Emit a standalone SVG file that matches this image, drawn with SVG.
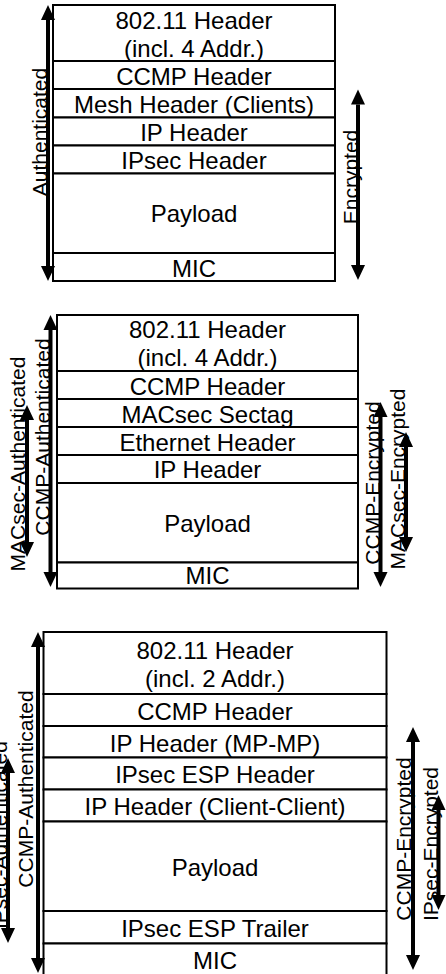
<svg xmlns="http://www.w3.org/2000/svg" width="446" height="974" viewBox="0 0 446 974">
<style>
.box{fill:#fff;stroke:#000;stroke-width:2}
.t{font-family:"Liberation Sans",Arial,sans-serif;font-size:24px;fill:#000;text-anchor:middle}
.l{font-family:"Liberation Sans",Arial,sans-serif;font-size:21px;fill:#000;text-anchor:middle}
.a{stroke:#000;stroke-width:4;fill:none;marker-start:url(#ah);marker-end:url(#ah)}
</style>
<defs>
<marker id="ah" markerUnits="userSpaceOnUse" markerWidth="16" markerHeight="16" viewBox="0 -8 16 16" refX="0" refY="0" orient="auto-start-reverse" overflow="visible">
<path d="M0,-7 L15,0 L0,7 Z" fill="#000"/>
</marker>
</defs>
<rect width="446" height="974" fill="#fff"/>

<!-- Frame 1 -->
<g id="f1-hdr"><rect class="box" x="53" y="5" width="282" height="56"/><text class="t" x="194" y="29">802.11 Header</text><text class="t" x="194" y="57">(incl. 4 Addr.)</text></g>
<g id="f1-ccmp"><rect class="box" x="53" y="61" width="282" height="28"/><text class="t" x="194" y="85">CCMP Header</text></g>
<g id="f1-mesh"><rect class="box" x="53" y="89" width="282" height="28.5"/><text class="t" x="194" y="113">Mesh Header (Clients)</text></g>
<g id="f1-ip"><rect class="box" x="53" y="117.5" width="282" height="28"/><text class="t" x="194" y="141">IP Header</text></g>
<g id="f1-ipsec"><rect class="box" x="53" y="145.5" width="282" height="28"/><text class="t" x="194" y="169">IPsec Header</text></g>
<g id="f1-payload"><rect class="box" x="53" y="173.5" width="282" height="79.5"/><text class="t" x="194" y="222">Payload</text></g>
<g id="f1-mic"><rect class="box" x="53" y="253" width="282" height="28"/><text class="t" x="194" y="277">MIC</text></g>

<!-- Frame 2 -->
<g id="f2-hdr"><rect class="box" x="57" y="315" width="301" height="56"/><text class="t" x="207.5" y="338">802.11 Header</text><text class="t" x="207.5" y="366">(incl. 4 Addr.)</text></g>
<g id="f2-ccmp"><rect class="box" x="57" y="371" width="301" height="28"/><text class="t" x="207.5" y="394.5">CCMP Header</text></g>
<g id="f2-sectag"><rect class="box" x="57" y="399" width="301" height="28"/><text class="t" x="207.5" y="422.5">MACsec Sectag</text></g>
<g id="f2-eth"><rect class="box" x="57" y="427" width="301" height="28"/><text class="t" x="207.5" y="450.5">Ethernet Header</text></g>
<g id="f2-ip"><rect class="box" x="57" y="455" width="301" height="28"/><text class="t" x="207.5" y="478">IP Header</text></g>
<g id="f2-payload"><rect class="box" x="57" y="483" width="301" height="79.5"/><text class="t" x="207.5" y="532">Payload</text></g>
<g id="f2-mic"><rect class="box" x="57" y="562.5" width="301" height="26"/><text class="t" x="207.5" y="584">MIC</text></g>

<!-- Frame 3 -->
<g id="f3-hdr"><rect class="box" x="43.5" y="632" width="343" height="62"/><text class="t" x="215" y="658.5">802.11 Header</text><text class="t" x="215" y="687">(incl. 2 Addr.)</text></g>
<g id="f3-ccmp"><rect class="box" x="43.5" y="694" width="343" height="32"/><text class="t" x="215" y="720">CCMP Header</text></g>
<g id="f3-ipmp"><rect class="box" x="43.5" y="726" width="343" height="31.5"/><text class="t" x="215" y="752">IP Header (MP-MP)</text></g>
<g id="f3-esph"><rect class="box" x="43.5" y="757.5" width="343" height="32"/><text class="t" x="215" y="782.5">IPsec ESP Header</text></g>
<g id="f3-ipcc"><rect class="box" x="43.5" y="789.5" width="343" height="32"/><text class="t" x="215" y="814.5">IP Header (Client-Client)</text></g>
<g id="f3-payload"><rect class="box" x="43.5" y="821.5" width="343" height="89.5"/><text class="t" x="215" y="876">Payload</text></g>
<g id="f3-espt"><rect class="box" x="43.5" y="911" width="343" height="32.5"/><text class="t" x="215" y="937">IPsec ESP Trailer</text></g>
<g id="f3-mic"><rect class="box" x="43.5" y="943.5" width="343" height="32"/><text class="t" x="215" y="968.5">MIC</text></g>

<!-- Connectors (range arrows) -->
<g id="connectors">
<path class="a" d="M48,20 V266"/>
<path class="a" d="M358,104.5 V265"/>
<path class="a" d="M50.5,330 V572"/>
<path class="a" d="M27,420 V542"/>
<path class="a" d="M380.5,417 V572"/>
<path class="a" d="M406,447 V537"/>
<path class="a" d="M38,647 V958"/>
<path class="a" d="M8,773 V928"/>
<path class="a" d="M413,742 V955"/>
<path class="a" d="M438.5,810 V895"/>
</g>

<!-- Range labels -->
<g id="labels">
<text class="l" transform="translate(46.5,132) rotate(-90)">Authenticated</text>
<text class="l" transform="translate(358,177) rotate(-90)">Encrypted</text>
<text class="l" transform="translate(49.5,437) rotate(-90)">CCMP-Authenticated</text>
<text class="l" transform="translate(24.5,464) rotate(-90)">MACsec-Authenticated</text>
<text class="l" transform="translate(380,483) rotate(-90)">CCMP-Encrypted</text>
<text class="l" transform="translate(405,479) rotate(-90)">MACsec-Encrypted</text>
<text class="l" transform="translate(33,789) rotate(-90)">CCMP-Authenticated</text>
<text class="l" transform="translate(6.5,835) rotate(-90)">IPsec-Authenticated</text>
<text class="l" transform="translate(411,839) rotate(-90)">CCMP-Encrypted</text>
<text class="l" transform="translate(438,844) rotate(-90)">IPsec-Encrypted</text>
</g>
</svg>
